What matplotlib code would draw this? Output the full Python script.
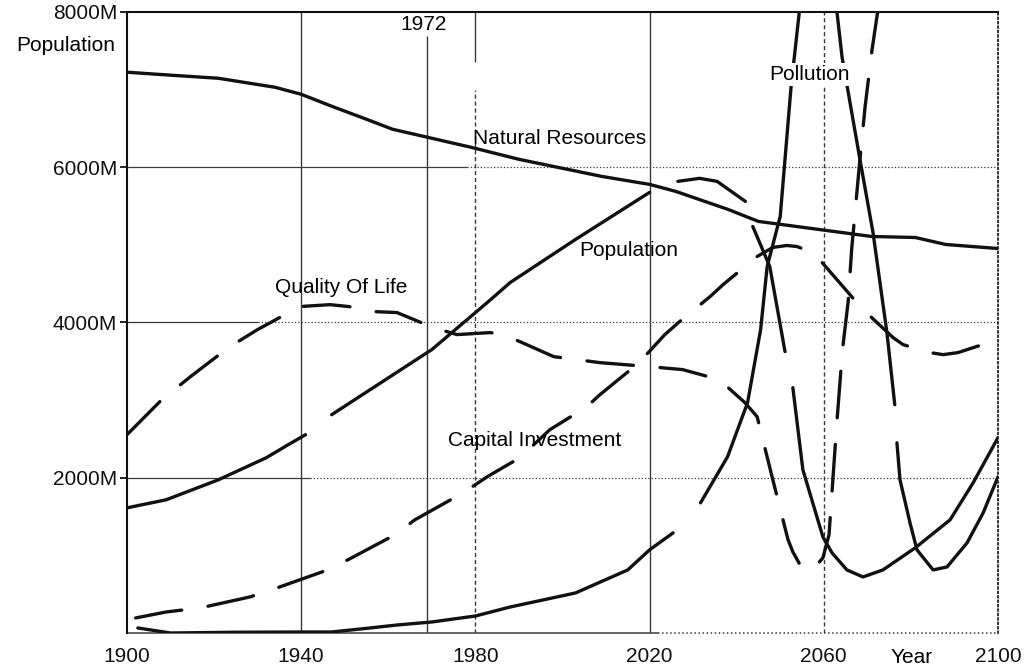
import numpy as np
import matplotlib
matplotlib.use('Agg')
import matplotlib.pyplot as plt

plt.rcParams['font.family'] = ['Liberation Sans', 'DejaVu Sans']

nan = np.nan

# values (millions)
nr_year = [1900, 1910, 1921, 1934, 1940, 1947, 1955, 1961, 1968, 1979, 1990, 2009, 2020,
           2026, 2038, 2045, 2064, 2071, 2081, 2088, 2100]
nr_val = [7224, 7186, 7146, 7030, 6940, 6786, 6618, 6489, 6399, 6257, 6102, 5882, 5779,
          5689, 5457, 5302, 5160, 5108, 5095, 5005, 4953]

pop_year = [1900, 1909, 1921, 1932, 1937, 1941, 1944, 1947, 1970, 1983, 1988, 2003, 2020,
            2023, 2026.5, 2031.5, 2035.5, 2042, 2043, 2043.7, 2047.6, 2051.1, 2052,
            2052.9, 2055.2, 2059.8, 2061.9, 2065.3, 2069, 2073.6, 2081, 2089, 2094.3, 2100]
pop_val = [1612, 1716, 1974, 2258, 2425, 2554, nan, 2812, 3651, 4270, 4515, 5070, 5676,
           nan, 5818, 5857, 5818, 5560, nan, 5237, 4721, 3625, nan,
           3160, 2103, 1238, 1032, 813, 722, 813, 1097, 1458, 1935, 2516]

pol_year = [1902.5, 1910, 1925, 1940, 1947, 1955, 1962, 1970, 1980, 1988, 2003, 2015, 2020,
            2025.4, 2028, 2031.7, 2037.9, 2042.5, 2045.5, 2047, 2050, 2052.5, 2054.4, 2055.2,
            2059, 2062.4, 2063, 2064.2, 2068.3, 2071.3, 2074.5, 2076.3, 2076.5, 2076.8,
            2077.5, 2079.8, 2081.4, 2085.1, 2088.3, 2092.9, 2096.6, 2100]
pol_val = [65, 0, 10, 13, 13, 60, 103, 142, 219, 335, 516, 813, 1071,
           1290, nan, 1677, 2270, 2967, 3909, 4721, 5366, 7043, 8011, 8400,
           nan, 8400, 8011, 7418, 6102, 5160, 3870, 2941, nan, 2451,
           1974, 1419, 1071, 813, 851, 1161, 1548, 2012]

qol_year = [1900, 1908, 1914.6, 1923.3, 1930, 1939.7, 1946.6, 1951, 1956.5, 1962, 1970.3,
            1975.8, 1983.4, 1986.4, 1990.2, 1998, 2008.6, 2020, 2027.6, 2036, 2041.9,
            2044.7, 2048.3, 2051.8, 2052.9, 2055.2, 2058, 2059.8, 2061.2, 2063, 2064.3,
            2065.6, 2066.4, 2068.3, 2069.5, 2071.1, 2072.4, 2073]
qol_val = [2554, 3006, 3303, 3677, 3909, 4205, 4230, 4205, 4141, 4128, 3935,
           3844, 3870, 3844, 3754, 3560, 3483, 3431, 3393, 3264, 2967,
           2786, 1974, 1200, 1045, 813, 851, 968, 1264, 2709, 3651,
           4270, 4941, 6102, 6785, 7521, 8011, 8400]

cap_year = [1902, 1909, 1916.8, 1928.2, 1934.4, 1944.8, 1950.7, 1961.5, 1966.1, 1977.2,
            1982.7, 1990.2, 1997.1, 2005.6, 2008.6, 2014.8, 2017.8, 2023.5, 2026.9, 2033.9,
            2036.9, 2044.7, 2048.3, 2051.5, 2053.8, 2057.5, 2059.6, 2066, 2068.3, 2075.9,
            2078.2, 2084.4, 2087.4, 2090.8, 2100]
cap_val = [194, 271, 323, 464, 580, 787, 942, 1264, 1458, 1806,
           2012, 2258, 2619, 2915, 3070, 3354, 3496, 3844, 4012, 4334,
           4489, 4850, 4967, 4992, 4979, 4902, 4773, 4360, 4205, 3806,
           3715, 3612, 3586, 3612, 3780]

x_ticks = [1900, 1940, 1980, 2020, 2060, 2100]
y_ticks = [2000, 4000, 6000, 8000]
y_labels = ['2000M', '4000M', '6000M', '8000M']

fig = plt.figure(figsize=(10.33, 6.69), dpi=100)
ax = fig.add_axes([0.1229, 0.0538, 0.8432, 0.9283])
ax.set_xlim(1900, 2100)
ax.set_ylim(0, 8000)

ink = '#111111'
grid = '#3a3a3a'

# grid lines, partly solid and partly dotted like the print
for y, solid_to in [(2000, 1942), (4000, 1930), (6000, 1978)]:
    ax.hlines(y, 1900, solid_to, color=grid, lw=0.9)
    ax.hlines(y, solid_to, 2100, color=grid, lw=0.9, linestyle=':')
ax.vlines(1940, 0, 8000, color=grid, lw=1.0)
ax.vlines(1969, 0, 7690, color=grid, lw=1.0)
ax.vlines(1980, 7350, 8000, color=grid, lw=1.0)
ax.vlines(1980, 0, 7000, color=grid, lw=1.0, linestyle=(0, (3, 2)))
ax.vlines(2020, 0, 8000, color=grid, lw=1.0)
ax.vlines(2060, 0, 8000, color=grid, lw=1.0, linestyle=(0, (3, 2)))
ax.hlines(0, 1900, 2022, color=grid, lw=1.1, clip_on=False)
ax.hlines(0, 2022, 2100, color=grid, lw=1.1, linestyle=':', clip_on=False)

lw = 2.4
ax.plot(nr_year, nr_val, color=ink, lw=lw, solid_capstyle='round')
ax.plot(pop_year, pop_val, color=ink, lw=lw, solid_capstyle='round')
ax.plot(pol_year, pol_val, color=ink, lw=lw, solid_capstyle='round')
ax.plot(qol_year, qol_val, color=ink, lw=lw, dashes=(14, 8), dash_capstyle='round')
ax.plot(cap_year, cap_val, color=ink, lw=lw, dashes=(14, 8), dash_capstyle='round')

fs = 15
ax.text(1999.4, 6373, 'Natural Resources', fontsize=fs, ha='center', va='center')
ax.text(2056.8, 7198, 'Pollution', fontsize=fs, ha='center', va='center', zorder=5,
        bbox=dict(facecolor='white', edgecolor='none', pad=1.5))
ax.text(2015.3, 4928, 'Population', fontsize=fs, ha='center', va='center')
ax.text(1949.1, 4450, 'Quality Of Life', fontsize=fs, ha='center', va='center')
ax.text(1993.7, 2477, 'Capital Investment', fontsize=fs, ha='center', va='center')
ax.text(1968.0, 7843, '1972', fontsize=fs, ha='center', va='center')
ax.text(1897.2, 7572, 'Population', fontsize=fs, ha='right', va='center', clip_on=False)
ax.text(2080.2, -310, 'Year', fontsize=fs, ha='center', va='center', clip_on=False)

ax.set_xticks(x_ticks)
ax.set_yticks(y_ticks)
ax.set_yticklabels(y_labels)
ax.tick_params(axis='y', length=5, width=1.3, pad=2, labelsize=fs, colors=ink)
ax.tick_params(axis='x', length=0, pad=10, labelsize=fs, colors=ink)

ax.spines['bottom'].set_visible(False)
ax.spines['top'].set_linewidth(1.5)
ax.spines['left'].set_linewidth(1.5)
ax.spines['right'].set_linewidth(1.2)
ax.spines['right'].set_linestyle(':')
for s in ax.spines.values():
    s.set_color(ink)

fig.savefig('out.png', dpi=100)
